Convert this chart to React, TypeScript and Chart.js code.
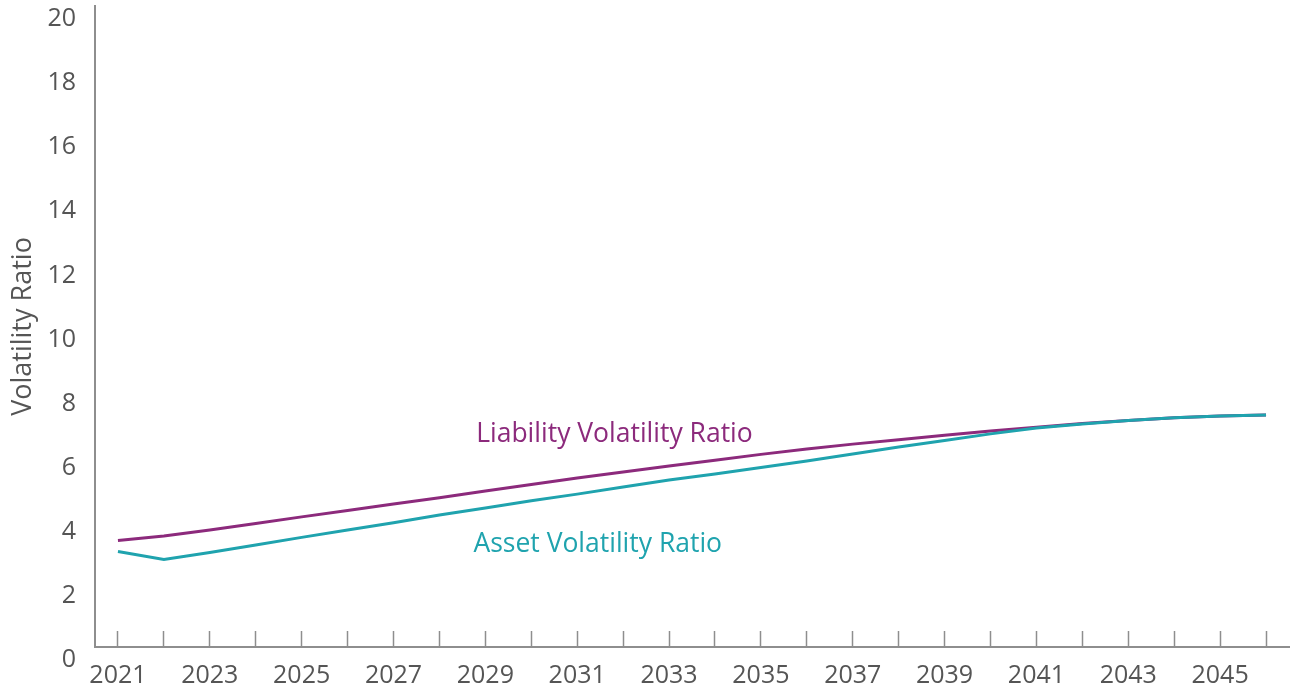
import React, { useEffect, useRef } from "react";
import { Chart, registerables } from "chart.js";

Chart.register(...registerables);

const years = [
  "2021", "2022", "2023", "2024", "2025", "2026", "2027", "2028", "2029", "2030",
  "2031", "2032", "2033", "2034", "2035", "2036", "2037", "2038", "2039", "2040",
  "2041", "2042", "2043", "2044", "2045", "2046",
];

const liabilityRatio = [
  3.32, 3.46, 3.65, 3.85, 4.06, 4.26, 4.46, 4.66, 4.87, 5.07,
  5.27, 5.46, 5.65, 5.83, 6.01, 6.18, 6.33, 6.47, 6.61, 6.74,
  6.86, 6.97, 7.07, 7.15, 7.21, 7.24,
];

const assetRatio = [
  2.98, 2.73, 2.95, 3.18, 3.42, 3.65, 3.88, 4.12, 4.34, 4.56,
  4.77, 4.99, 5.21, 5.4, 5.6, 5.8, 6.02, 6.24, 6.44, 6.65,
  6.83, 6.96, 7.07, 7.15, 7.21, 7.24,
];

const seriesNames = ["Liability Volatility Ratio", "Asset Volatility Ratio"];
const yAxisTitle = "Volatility Ratio";

const PURPLE = "#8c2a7c";
const TEAL = "#1fa3ae";
const AXIS = "#8e8e8e";
const TEXT = "#555555";
const FONT = '"Open Sans", "Noto Sans", sans-serif';

export default function App() {
  const ref = useRef<HTMLCanvasElement | null>(null);

  useEffect(() => {
    document.body.style.margin = "0";
    const canvas = ref.current;
    if (!canvas) return;

    const annotations = [
      { text: seriesNames[0], color: PURPLE, index: 7.8, value: 6.4 },
      { text: seriesNames[1], color: TEAL, index: 7.74, value: 2.96 },
    ];

    const labelPlugin = {
      id: "seriesLabels",
      afterDatasetsDraw(chart: any) {
        const { ctx, scales } = chart;
        ctx.save();
        ctx.font = `26.5px ${FONT}`;
        ctx.textAlign = "left";
        ctx.textBaseline = "alphabetic";
        for (const a of annotations) {
          ctx.fillStyle = a.color;
          ctx.fillText(a.text, scales.x.getPixelForValue(a.index), scales.y.getPixelForValue(a.value));
        }
        ctx.restore();
      },
    };

    const chart = new Chart(canvas, {
      type: "line",
      data: {
        labels: years,
        datasets: [
          {
            label: seriesNames[1],
            data: assetRatio,
            borderColor: TEAL,
            backgroundColor: TEAL,
            borderWidth: 3,
            pointRadius: 0,
            tension: 0,
            fill: false,
          },
          {
            label: seriesNames[0],
            data: liabilityRatio,
            borderColor: PURPLE,
            backgroundColor: PURPLE,
            borderWidth: 3,
            pointRadius: 0,
            tension: 0,
            fill: false,
          },
        ],
      },
      options: {
        animation: false,
        responsive: true,
        maintainAspectRatio: false,
        layout: { padding: { left: 0, top: 6, right: 2, bottom: 0 } },
        plugins: {
          legend: { display: false },
          tooltip: { enabled: false },
        },
        scales: {
          x: {
            type: "category",
            offset: true,
            grid: {
              display: true,
              offset: false,
              drawOnChartArea: false,
              drawTicks: true,
              tickLength: -16,
              tickColor: AXIS,
              tickWidth: 1.5,
              color: AXIS,
            },
            border: { display: true, color: AXIS, width: 2 },
            ticks: {
              autoSkip: false,
              maxRotation: 0,
              minRotation: 0,
              padding: 30,
              color: TEXT,
              font: { family: FONT, size: 25 },
              callback: (_v: any, i: number) => (i % 2 === 0 ? years[i] : ""),
            },
            afterFit: (s: any) => {
              s.height = 46;
              s.paddingLeft = 0;
              s.paddingRight = 0;
            },
          },
          y: {
            min: 0,
            max: 20,
            grid: { display: false, drawTicks: false },
            border: { display: true, color: AXIS, width: 2 },
            ticks: {
              stepSize: 2,
              padding: 19,
              labelOffset: 13,
              color: TEXT,
              font: { family: FONT, size: 25 },
            },
            title: {
              display: true,
              text: yAxisTitle,
              color: TEXT,
              font: { family: FONT, size: 27 },
              padding: { top: 7, bottom: 0 },
            },
            afterFit: (s: any) => {
              s.width = 95;
              s.paddingTop = 0;
              s.paddingBottom = 0;
            },
          },
        },
      },
      plugins: [labelPlugin],
    });

    return () => chart.destroy();
  }, []);

  return (
    <div style={{ position: "relative", width: 1291, height: 693 }}>
      <canvas ref={ref} />
    </div>
  );
}
